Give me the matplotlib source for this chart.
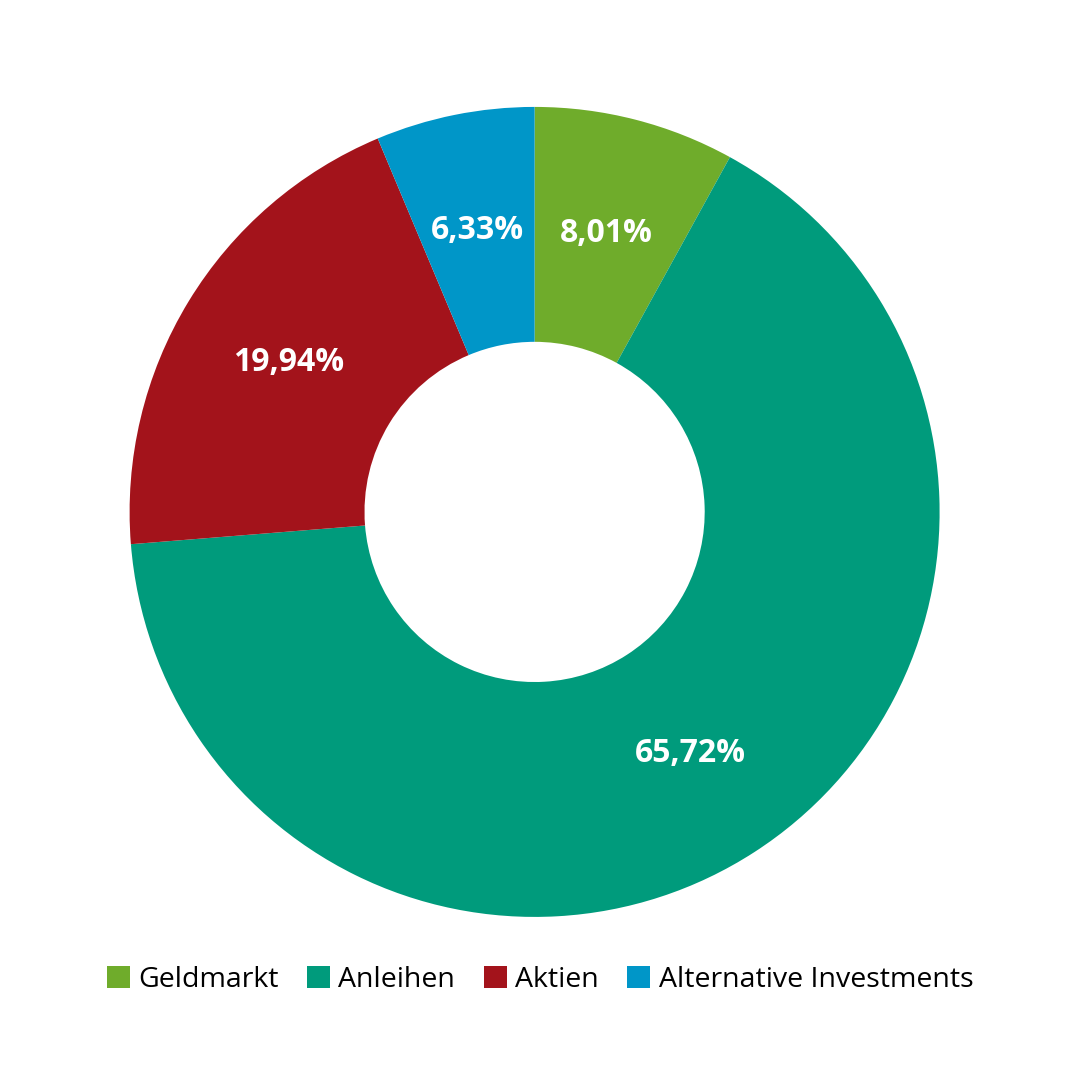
import matplotlib
matplotlib.use("Agg")
import matplotlib.pyplot as plt

categories = ["Geldmarkt", "Anleihen", "Aktien", "Alternative Investments"]
values = [8.01, 65.72, 19.94, 6.33]
colors = ["#6fac2b", "#009b7c", "#a3131b", "#0096c8"]

plt.rcParams["font.family"] = ["Open Sans", "DejaVu Sans"]

fig = plt.figure(figsize=(10.8, 10.8), dpi=100)
ax = fig.add_axes([0.12, 0.151, 0.75, 0.75])

wedges, texts, autotexts = ax.pie(
    values,
    colors=colors,
    startangle=90,
    counterclock=False,
    radius=1.0,
    wedgeprops=dict(width=0.58, edgecolor="none"),
    autopct=lambda p: f"{p:.2f}%".replace(".", ","),
    pctdistance=0.71,
)
for t in autotexts:
    t.set_color("white")
    t.set_fontsize(23)
    t.set_fontweight("bold")
ax.set_xlim(-1, 1)
ax.set_ylim(-1, 1)
ax.set_aspect("equal")

fig.legend(
    wedges,
    categories,
    loc="center",
    bbox_to_anchor=(0.5, 1 - 980 / 1080),
    ncol=4,
    frameon=False,
    fontsize=20.5,
    handlelength=0.8,
    handleheight=0.8,
    handletextpad=0.3,
    columnspacing=1.0,
)

fig.savefig("out.png", dpi=100, facecolor="white")
